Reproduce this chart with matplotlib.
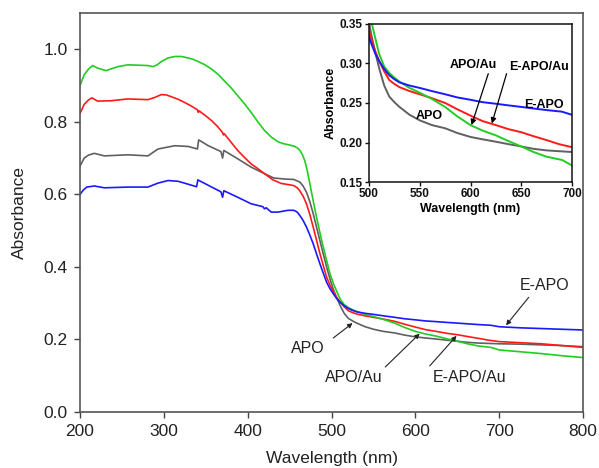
import matplotlib
matplotlib.use("Agg")
import matplotlib.pyplot as plt

plt.rcParams['font.family'] = ['Liberation Sans', 'DejaVu Sans']

# APO (gray)
wl_apo = [200, 205, 210, 217, 229, 257, 281, 293, 313, 329, 340, 341.5, 353, 368, 370, 371.5,
          388, 404, 420, 431, 445, 455, 462, 466, 470, 474, 478, 482, 486, 490, 494, 498, 502,
          506, 510, 515, 520, 525, 530, 540, 550, 562, 575, 587, 600, 612, 625, 637, 650, 662,
          675, 687, 700, 725, 750, 775, 800]
ab_apo = [0.678, 0.700, 0.708, 0.713, 0.706, 0.709, 0.706, 0.725, 0.734, 0.732, 0.725, 0.750,
          0.734, 0.718, 0.700, 0.721, 0.698, 0.675, 0.657, 0.645, 0.642, 0.641, 0.634, 0.623,
          0.606, 0.580, 0.547, 0.510, 0.473, 0.436, 0.400, 0.367, 0.338, 0.315, 0.294, 0.272,
          0.258, 0.251, 0.245, 0.235, 0.228, 0.222, 0.218, 0.212, 0.207, 0.204, 0.201, 0.198,
          0.195, 0.192, 0.190, 0.189, 0.188, 0.187, 0.185, 0.183, 0.180]

# E-APO/Au (red)
wl_eapoau = [200, 205, 210, 214, 221, 237, 257, 281, 289, 297, 303, 309, 317, 325, 333, 340,
             341, 342, 349, 357, 364, 370, 371, 372, 380, 388, 396, 404, 412, 420, 430, 440,
             448, 455, 459, 462, 466, 470, 474, 478, 482, 486, 490, 494, 498, 502, 506, 510,
             515, 520, 525, 530, 540, 550, 562, 575, 587, 600, 612, 625, 637, 650, 662, 675,
             687, 700, 725, 750, 775, 800]
ab_eapoau = [0.823, 0.848, 0.860, 0.866, 0.857, 0.858, 0.863, 0.861, 0.867, 0.875, 0.874,
             0.869, 0.862, 0.853, 0.843, 0.833, 0.826, 0.830, 0.818, 0.803, 0.787, 0.770,
             0.764, 0.767, 0.744, 0.721, 0.702, 0.684, 0.671, 0.657, 0.640, 0.630, 0.627,
             0.624, 0.618, 0.610, 0.595, 0.574, 0.545, 0.510, 0.474, 0.437, 0.404, 0.372,
             0.350, 0.332, 0.316, 0.303, 0.290, 0.279, 0.274, 0.270, 0.265, 0.261, 0.256,
             0.250, 0.242, 0.234, 0.227, 0.222, 0.217, 0.213, 0.208, 0.203, 0.198, 0.194,
             0.191, 0.188, 0.183, 0.178]

# APO/Au (green)
wl_apoau = [200, 205, 210, 215, 221, 231, 245, 257, 281, 287, 292, 297, 305, 313, 321, 329,
            335, 341, 349, 357, 365, 372, 380, 388, 396, 404, 412, 420, 428, 436, 442, 448,
            455, 459, 462, 465, 468, 471, 474, 478, 482, 486, 490, 494, 498, 502, 506, 510,
            515, 520, 525, 530, 540, 550, 562, 575, 587, 600, 612, 625, 637, 650, 662, 675,
            690, 700, 725, 750, 775, 800]
ab_apoau = [0.900, 0.930, 0.945, 0.955, 0.948, 0.941, 0.952, 0.957, 0.955, 0.952, 0.957,
            0.966, 0.976, 0.980, 0.980, 0.976, 0.972, 0.966, 0.957, 0.945, 0.930, 0.913,
            0.894, 0.872, 0.850, 0.826, 0.800, 0.776, 0.758, 0.745, 0.740, 0.737, 0.733,
            0.728, 0.722, 0.710, 0.693, 0.665, 0.630, 0.583, 0.537, 0.495, 0.455, 0.418,
            0.382, 0.355, 0.333, 0.312, 0.296, 0.288, 0.282, 0.277, 0.269, 0.263, 0.255,
            0.245, 0.233, 0.222, 0.215, 0.209, 0.202, 0.195, 0.188, 0.182, 0.178, 0.171,
            0.166, 0.161, 0.155, 0.150]

# E-APO (blue)
wl_eapo = [200, 204, 208, 217, 229, 257, 281, 293, 305, 317, 339, 340.5, 342, 357, 368, 370,
           371.5, 388, 404, 418, 420, 422, 428, 436, 448, 455, 459, 462, 466, 470, 474, 478,
           482, 486, 490, 494, 498, 502, 506, 510, 515, 520, 525, 530, 540, 550, 562, 575,
           587, 600, 612, 625, 637, 650, 662, 675, 690, 700, 725, 750, 775, 800]
ab_eapo = [0.600, 0.612, 0.620, 0.623, 0.618, 0.620, 0.620, 0.631, 0.638, 0.636, 0.621, 0.640,
           0.638, 0.620, 0.607, 0.592, 0.610, 0.592, 0.574, 0.566, 0.560, 0.563, 0.551, 0.551,
           0.556, 0.556, 0.551, 0.542, 0.528, 0.510, 0.488, 0.464, 0.436, 0.409, 0.383, 0.358,
           0.340, 0.326, 0.313, 0.303, 0.293, 0.285, 0.280, 0.276, 0.272, 0.269, 0.265, 0.261,
           0.257, 0.254, 0.251, 0.249, 0.247, 0.245, 0.243, 0.241, 0.239, 0.235, 0.232, 0.230,
           0.228, 0.226]

series = [
    (wl_apo, ab_apo, '#606060'),
    (wl_eapoau, ab_eapoau, '#ff1a1a'),
    (wl_apoau, ab_apoau, '#22cc22'),
    (wl_eapo, ab_eapo, '#1a1aff'),
]

main_xticks = [200, 300, 400, 500, 600, 700, 800]
main_yticks = [0.0, 0.2, 0.4, 0.6, 0.8, 1.0]
inset_xticks = [500, 550, 600, 650, 700]
inset_yticks = [0.15, 0.20, 0.25, 0.30, 0.35]

fig = plt.figure(figsize=(5.99, 4.68), dpi=100)
ax = fig.add_axes([0.1336, 0.1197, 0.840, 0.8526])

for wl, ab, c in series:
    ax.plot(wl, ab, color=c, lw=1.2, solid_joinstyle='round')

ax.set_xlim(200, 800)
ax.set_ylim(0, 1.1)
ax.set_xticks(main_xticks)
ax.set_yticks(main_yticks)
ax.set_yticklabels([f"{v:.1f}" for v in main_yticks])
ax.tick_params(direction='out', length=4, width=1, colors='#444444', labelcolor='#222222',
               labelsize=12.5, top=False, right=False, pad=5)
for s in ax.spines.values():
    s.set_color('#555555')
    s.set_linewidth(1.2)
ax.set_xlabel('Wavelength (nm)', fontsize=12.5, color='#222222', labelpad=8)
ax.set_ylabel('Absorbance', fontsize=12.5, color='#222222', labelpad=12)

arrow_kw = dict(arrowstyle='-|>', color='#222222', lw=0.8, mutation_scale=7,
                shrinkA=0, shrinkB=0)
fs_ann = 11.5
# E-APO
ax.text(754, 0.349, 'E-APO', fontsize=fs_ann, ha='center', va='center', color='#222222')
ax.annotate('', xy=(708, 0.239), xytext=(735, 0.316), arrowprops=arrow_kw)
# APO
ax.text(472, 0.176, 'APO', fontsize=fs_ann, ha='center', va='center', color='#222222')
ax.annotate('', xy=(525, 0.245), xytext=(502, 0.204), arrowprops=arrow_kw)
# APO/Au
ax.text(526, 0.096, 'APO/Au', fontsize=fs_ann, ha='center', va='center', color='#222222')
ax.annotate('', xy=(605, 0.216), xytext=(564, 0.124), arrowprops=arrow_kw)
# E-APO/Au
ax.text(665, 0.096, 'E-APO/Au', fontsize=fs_ann, ha='center', va='center', color='#222222')
ax.annotate('', xy=(649, 0.210), xytext=(617, 0.127), arrowprops=arrow_kw)

# Inset
ins = fig.add_axes([0.616, 0.611, 0.339, 0.338])
for wl, ab, c in series:
    ins.plot(wl, ab, color=c, lw=1.4, solid_joinstyle='round')
ins.set_xlim(500, 700)
ins.set_ylim(0.15, 0.35)
ins.set_xticks(inset_xticks)
ins.set_yticks(inset_yticks)
ins.set_yticklabels([f"{v:.2f}" for v in inset_yticks])
ins.tick_params(direction='out', length=3, width=1, labelsize=8.5, pad=1.5, colors='#111111')
for lab in ins.get_xticklabels() + ins.get_yticklabels():
    lab.set_fontweight('bold')
for s in ins.spines.values():
    s.set_color('#111111')
    s.set_linewidth(1.1)
ins.set_xlabel('Wavelength (nm)', fontsize=9, fontweight='bold', labelpad=2)
ins.set_ylabel('Absorbance', fontsize=9, fontweight='bold', labelpad=2)

ins_arrow = dict(arrowstyle='-|>', color='black', lw=0.9, mutation_scale=8,
                 shrinkA=0, shrinkB=0)
fs_ins = 9
ins.text(603, 0.298, 'APO/Au', fontsize=fs_ins, fontweight='bold', ha='center', va='center')
ins.annotate('', xy=(601, 0.222), xytext=(617.5, 0.287), arrowprops=ins_arrow)
ins.text(667, 0.296, 'E-APO/Au', fontsize=fs_ins, fontweight='bold', ha='center', va='center')
ins.annotate('', xy=(621, 0.224), xytext=(635.5, 0.287), arrowprops=ins_arrow)
ins.text(672, 0.2475, 'E-APO', fontsize=fs_ins, fontweight='bold', ha='center', va='center')
ins.text(559, 0.234, 'APO', fontsize=fs_ins, fontweight='bold', ha='center', va='center')

fig.savefig('out.png', dpi=100)
